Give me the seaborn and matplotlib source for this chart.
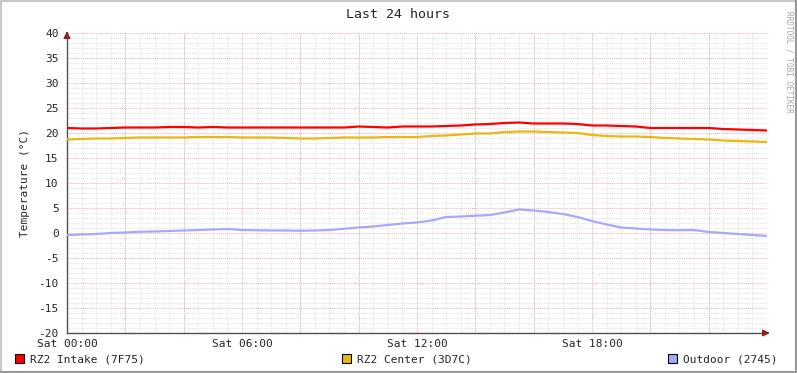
import numpy as np
import pandas as pd
import matplotlib
matplotlib.use("Agg")
import matplotlib.pyplot as plt
import seaborn as sns
from matplotlib.ticker import MultipleLocator

hours = [i * 0.5 for i in range(49)]
intake = [21.0, 20.9, 20.9, 21.0, 21.1, 21.1, 21.1, 21.2, 21.2, 21.1, 21.2, 21.1,
          21.1, 21.1, 21.1, 21.1, 21.1, 21.1, 21.1, 21.1, 21.3, 21.2, 21.1, 21.3,
          21.3, 21.3, 21.4, 21.5, 21.7, 21.8, 22.0, 22.1, 21.9, 21.9, 21.9, 21.8,
          21.5, 21.5, 21.4, 21.3, 21.0, 21.0, 21.0, 21.0, 21.0, 20.8, 20.7, 20.6, 20.5]
center = [18.7, 18.8, 18.9, 18.9, 19.0, 19.1, 19.1, 19.1, 19.1, 19.2, 19.2, 19.2,
          19.1, 19.1, 19.1, 19.0, 18.9, 18.9, 19.0, 19.1, 19.1, 19.1, 19.2, 19.2,
          19.2, 19.4, 19.5, 19.7, 19.9, 19.9, 20.2, 20.3, 20.3, 20.2, 20.1, 20.0,
          19.6, 19.4, 19.3, 19.3, 19.2, 19.0, 18.9, 18.8, 18.7, 18.5, 18.4, 18.3, 18.2]
outdoor = [-0.4, -0.3, -0.2, 0.0, 0.1, 0.25, 0.3, 0.4, 0.5, 0.6, 0.7, 0.8,
           0.6, 0.55, 0.5, 0.5, 0.45, 0.5, 0.6, 0.85, 1.1, 1.3, 1.6, 1.9,
           2.1, 2.5, 3.2, 3.3, 3.45, 3.6, 4.1, 4.7, 4.5, 4.2, 3.8, 3.2,
           2.4, 1.7, 1.1, 0.9, 0.7, 0.6, 0.55, 0.6, 0.2, 0.0, -0.2, -0.4, -0.6]
series_names = ["RZ2 Intake (7F75)", "RZ2 Center (3D7C)", "Outdoor (2745)"]
series_colors = ["#FF0000", "#E8B810", "#A8A8F8"]
xtick_pos = [0, 6, 12, 18]
xtick_labels = ["Sat 00:00", "Sat 06:00", "Sat 12:00", "Sat 18:00"]
ytick_vals = list(range(-20, 45, 5))

df = pd.DataFrame({
    "hour": hours * 3,
    "value": intake + center + outdoor,
    "series": [series_names[0]] * 49 + [series_names[1]] * 49 + [series_names[2]] * 49,
})

sns.set_style("white")
plt.rcParams["font.family"] = ["DejaVu Sans Mono"]
W, H = 797, 373
fig = plt.figure(figsize=(W / 100, H / 100), dpi=100)
fig.patch.set_facecolor("white")
ax = fig.add_axes([67 / W, 1 - 333 / H, 700 / W, 300 / H])
ax.set_facecolor("white")

ax.set_xlim(0, 24)
ax.set_ylim(-20, 40)

# grid
ax.xaxis.set_minor_locator(MultipleLocator(0.5))
ax.yaxis.set_minor_locator(MultipleLocator(1))
ax.grid(which="minor", color="#E2E2E2", linestyle=(0, (1, 1)), linewidth=0.7)
for h in np.arange(2, 24.01, 2):
    ax.axvline(h, color="#E8B4B4", linestyle=(0, (1, 1)), linewidth=0.7, zorder=1)
for v in ytick_vals[1:]:
    ax.axhline(v, color="#E8B4B4", linestyle=(0, (1, 1)), linewidth=0.7, zorder=1)
ax.set_axisbelow(True)

sns.lineplot(data=df, x="hour", y="value", hue="series", palette=series_colors,
             hue_order=series_names, linewidth=1.6,
             legend=False, ax=ax, zorder=3)

ax.set_xticks(xtick_pos)
ax.set_xticklabels(xtick_labels)
ax.set_yticks(ytick_vals)
ax.set_yticklabels([str(v) for v in ytick_vals])
ax.tick_params(axis="both", which="major", labelsize=8, length=3, color="#A05050",
               direction="out", pad=1)
ax.tick_params(axis="x", which="minor", length=2, color="#C08080", direction="out")
ax.tick_params(axis="y", which="minor", length=0)
ax.tick_params(axis="y", which="major", pad=3)
ax.set_xlabel("")
ax.set_ylabel("Temperature (°C)", fontsize=8, labelpad=6)

for s in ["top", "right"]:
    ax.spines[s].set_visible(False)
for s in ["left", "bottom"]:
    ax.spines[s].set_color("#505050")
    ax.spines[s].set_linewidth(1.0)

# axis arrows
ax.annotate("", xy=(0, 1.015), xytext=(0, 0.99), xycoords="axes fraction",
            arrowprops=dict(arrowstyle="-|>,head_width=0.2,head_length=0.4",
                            color="#902020", lw=1.0))
ax.annotate("", xy=(1.008, 0), xytext=(0.99, 0), xycoords="axes fraction",
            arrowprops=dict(arrowstyle="-|>,head_width=0.2,head_length=0.4",
                            color="#902020", lw=1.0))

fig.text(398 / W, 1 - 14 / H, "Last 24 hours", ha="center", va="center", fontsize=9.5)
fig.text(789 / W, 1 - 62 / H, "RRDTOOL / TOBI OETIKER", ha="center", va="center",
         rotation=270, fontsize=5.6, color="#A8A8A8")

# legend
legend_x = [15, 342, 668]
for lx, name, col in zip(legend_x, series_names, series_colors):
    fig.patches.append(plt.Rectangle((lx / W, 1 - 363 / H), 9 / W, 9 / H,
                                     transform=fig.transFigure, facecolor=col,
                                     edgecolor="black", linewidth=0.8))
    fig.text((lx + 15) / W, 1 - 359 / H, name, ha="left", va="center", fontsize=8)

# frame
fig.add_artist(plt.Line2D([0, 0], [0, 1], transform=fig.transFigure, color="#C8C8C8", lw=3))
fig.add_artist(plt.Line2D([0, 1], [1, 1], transform=fig.transFigure, color="#C8C8C8", lw=3))
fig.add_artist(plt.Line2D([1, 1], [0, 1], transform=fig.transFigure, color="#989898", lw=3))
fig.add_artist(plt.Line2D([0, 1], [0, 0], transform=fig.transFigure, color="#989898", lw=3))

fig.savefig("out.png", dpi=100)
